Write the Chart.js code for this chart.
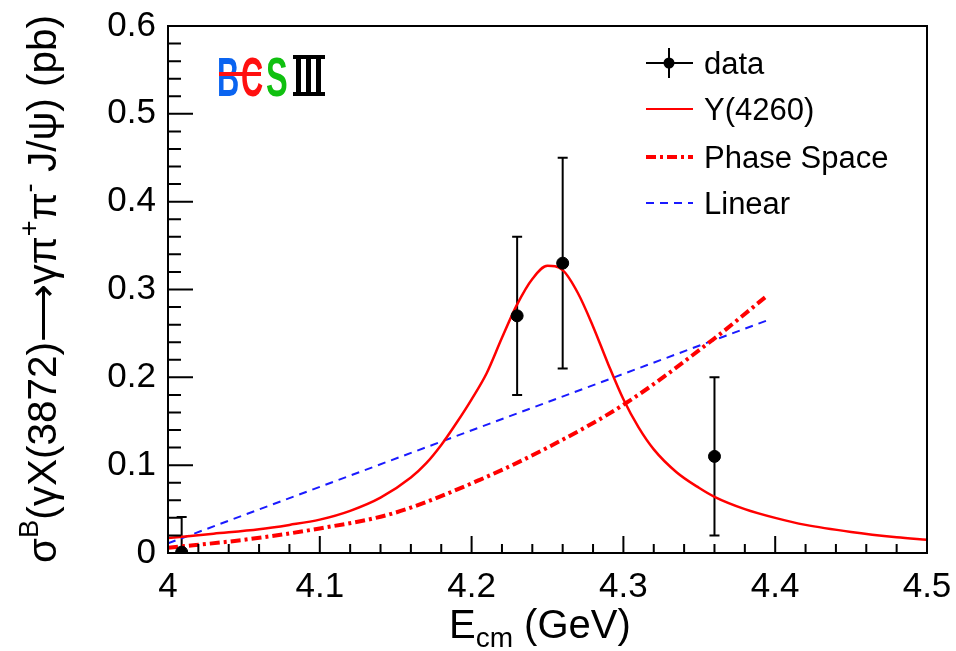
<!DOCTYPE html>
<html>
<head>
<meta charset="utf-8">
<script src="https://cdn.jsdelivr.net/npm/chart.js@4"></script>
<style>
  html, body { margin: 0; padding: 0; background: #fff; }
  #wrap { width: 956px; height: 651px; }
</style>
</head>
<body>
<div id="wrap"><canvas id="c" width="956" height="651"></canvas></div>
<script>
// measured points with symmetric errors
const dataX = [4.009, 4.230, 4.260, 4.360];
const dataY = [0.001, 0.270, 0.330, 0.110];
const dataErr = [0.040, 0.090, 0.120, 0.090];

// Y(4260) fit curve
const bwX = [4.00, 4.03, 4.06, 4.08, 4.10, 4.12, 4.14, 4.16, 4.17, 4.18, 4.19, 4.20, 4.21, 4.22, 4.23, 4.24, 4.25, 4.26, 4.27, 4.28, 4.29, 4.30, 4.31, 4.32, 4.335, 4.35, 4.36, 4.38, 4.40, 4.42, 4.45, 4.48, 4.50];
const bwY = [0.017, 0.022, 0.027, 0.032, 0.038, 0.048, 0.063, 0.086, 0.102, 0.123, 0.148, 0.175, 0.205, 0.245, 0.283, 0.312, 0.327, 0.322, 0.296, 0.258, 0.215, 0.175, 0.143, 0.118, 0.092, 0.074, 0.064, 0.050, 0.040, 0.032, 0.024, 0.018, 0.015];

// phase space curve
const psX = [4.0, 4.05, 4.1, 4.148, 4.205, 4.25, 4.302, 4.359, 4.394];
const psY = [0.006, 0.015, 0.028, 0.045, 0.083, 0.120, 0.171, 0.243, 0.292];

// linear
const linX = [4.0, 4.395];
const linY = [0.011, 0.265];

const xTickLabels = ['4', '4.1', '4.2', '4.3', '4.4', '4.5'];
const yTickLabels = ['0', '0.1', '0.2', '0.3', '0.4', '0.5', '0.6'];

const FONT = '"Liberation Sans", Arial, sans-serif';
const pts = (xs, ys) => xs.map((x, i) => ({ x: x, y: ys[i] }));

const rootPlugin = {
  id: 'rootStyle',
  beforeDatasetsDraw(chart) {
    const ctx = chart.ctx, xs = chart.scales.x, ys = chart.scales.y, a = chart.chartArea;
    ctx.save();
    ctx.strokeStyle = '#000';
    ctx.lineWidth = 2;
    dataX.forEach((x, i) => {
      const px = xs.getPixelForValue(x);
      const lo = dataY[i] - dataErr[i], hi = dataY[i] + dataErr[i];
      const pLo = Math.min(ys.getPixelForValue(lo), a.bottom);
      const pHi = ys.getPixelForValue(hi);
      ctx.beginPath();
      ctx.moveTo(px, pLo); ctx.lineTo(px, pHi);
      ctx.moveTo(px - 5, pHi); ctx.lineTo(px + 5, pHi);
      if (lo >= 0) { ctx.moveTo(px - 5, pLo); ctx.lineTo(px + 5, pLo); }
      ctx.stroke();
    });
    ctx.restore();
  },
  afterDraw(chart) {
    const ctx = chart.ctx, xs = chart.scales.x, ys = chart.scales.y, a = chart.chartArea;
    ctx.save();
    // frame
    ctx.strokeStyle = '#000';
    ctx.lineWidth = 2;
    ctx.strokeRect(a.left, a.top, a.right - a.left, a.bottom - a.top);
    // inward ticks
    ctx.beginPath();
    for (let i = 0; i <= 25; i++) {
      const px = xs.getPixelForValue(4 + i * 0.02);
      const len = i % 5 === 0 ? 17 : 9;
      ctx.moveTo(px, a.bottom); ctx.lineTo(px, a.bottom - len);
    }
    for (let i = 0; i <= 30; i++) {
      const py = ys.getPixelForValue(i * 0.02);
      const len = i % 5 === 0 ? 25 : 13;
      ctx.moveTo(a.left, py); ctx.lineTo(a.left + len, py);
    }
    ctx.stroke();

    // x title
    ctx.fillStyle = '#000';
    ctx.textBaseline = 'alphabetic';
    ctx.textAlign = 'left';
    let x = 449, base = 638;
    ctx.font = '40px ' + FONT;
    ctx.fillText('E', x, base); x += ctx.measureText('E').width;
    ctx.font = '28px ' + FONT;
    ctx.fillText('cm', x, base + 9); x += ctx.measureText('cm').width;
    ctx.font = '40px ' + FONT;
    ctx.fillText(' (GeV)', x, base);

    // y title with super scripts
    const segs = [
      ['σ', 0], ['B', 1], ['(γX(3872)', 0], ['⟶', 0], ['γπ', 0], ['+', 1], ['π', 0], ['-', 1], [' J/ψ) (pb)', 0]
    ];
    const big = '40px ' + FONT, small = '27px ' + FONT;
    let w = 0;
    segs.forEach(s => { ctx.font = s[1] ? small : big; w += ctx.measureText(s[0]).width; });
    const target = 548;
    ctx.translate(56, 289);
    ctx.rotate(-Math.PI / 2);
    ctx.scale(target / w, 1);
    let t = -w / 2;
    segs.forEach(s => {
      ctx.font = s[1] ? small : big;
      ctx.fillText(s[0], t, s[1] ? -18 : 0);
      t += ctx.measureText(s[0]).width;
    });
    ctx.setTransform(1, 0, 0, 1, 0, 0);

    // legend
    const ly = [63, 109, 157, 203];
    ctx.font = '31px ' + FONT;
    ctx.textBaseline = 'middle';
    ctx.fillStyle = '#000';
    ['data', 'Y(4260)', 'Phase Space', 'Linear'].forEach((s, i) => ctx.fillText(s, 704, ly[i] + 2));
    ctx.lineWidth = 2; ctx.strokeStyle = '#000';
    ctx.beginPath();
    ctx.moveTo(646, ly[0]); ctx.lineTo(693, ly[0]);
    ctx.moveTo(669, ly[0] - 15); ctx.lineTo(669, ly[0] + 15);
    ctx.stroke();
    ctx.beginPath(); ctx.arc(669, ly[0], 5.5, 0, Math.PI * 2); ctx.fillStyle = '#000'; ctx.fill();
    ctx.strokeStyle = '#ff0000'; ctx.lineWidth = 2;
    ctx.beginPath(); ctx.moveTo(646, ly[1]); ctx.lineTo(693, ly[1]); ctx.stroke();
    ctx.lineWidth = 4; ctx.setLineDash([10, 4, 3, 4]);
    ctx.beginPath(); ctx.moveTo(646, ly[2]); ctx.lineTo(693, ly[2]); ctx.stroke();
    ctx.strokeStyle = '#1a1aff'; ctx.lineWidth = 2; ctx.setLineDash([8, 6]);
    ctx.beginPath(); ctx.moveTo(646, ly[3]); ctx.lineTo(693, ly[3]); ctx.stroke();
    ctx.setLineDash([]);

    // BESIII logo
    ctx.textBaseline = 'alphabetic';
    ctx.font = 'bold 56px ' + FONT;
    const letter = (ch, col, px, sx) => {
      ctx.save(); ctx.translate(px, 96); ctx.scale(sx, 1);
      ctx.fillStyle = col; ctx.fillText(ch, 0, 0); ctx.restore();
    };
    letter('B', '#0a64f0', 217, 0.55);
    letter('C', '#ff1010', 241, 0.55);
    letter('S', '#10c010', 266, 0.58);
    ctx.fillStyle = '#000';
    ctx.fillRect(293, 55, 32, 4);
    ctx.fillRect(293, 92, 32, 4);
    ctx.fillRect(296, 55, 5, 41);
    ctx.fillRect(306, 55, 5, 41);
    ctx.fillRect(316, 55, 5, 41);
    ctx.fillStyle = '#ff1010';
    ctx.fillRect(219, 72, 42, 4);
    ctx.restore();
  }
};

const noOverhang = s => { s.paddingTop = 0; s.paddingBottom = 0; s.paddingLeft = 0; s.paddingRight = 0; };

new Chart(document.getElementById('c'), {
  type: 'scatter',
  data: {
    datasets: [
      {
        label: 'data', data: pts(dataX, dataY), order: 0,
        backgroundColor: '#000', borderColor: '#000', pointRadius: 6, showLine: false
      },
      {
        label: 'Y(4260)', data: pts(bwX, bwY), order: 1, showLine: true,
        borderColor: '#ff0000', borderWidth: 2.5, pointRadius: 0, cubicInterpolationMode: 'monotone'
      },
      {
        label: 'Phase Space', data: pts(psX, psY), order: 2, showLine: true,
        borderColor: '#ff0000', borderWidth: 4, borderDash: [10, 4, 3, 4], pointRadius: 0, cubicInterpolationMode: 'monotone'
      },
      {
        label: 'Linear', data: pts(linX, linY), order: 3, showLine: true,
        borderColor: '#1a1aff', borderWidth: 2, borderDash: [8, 6], pointRadius: 0
      }
    ]
  },
  options: {
    responsive: false,
    animation: false,
    layout: { padding: { left: 0, right: 29, top: 26, bottom: 0 } },
    plugins: { legend: { display: false }, tooltip: { enabled: false } },
    scales: {
      x: {
        type: 'linear', min: 4, max: 4.5,
        grid: { display: false, drawTicks: false },
        border: { display: false },
        afterBuildTicks: s => { s.ticks = xTickLabels.map((l, i) => ({ value: 4 + i * 0.1 })); },
        ticks: {
          autoSkip: false, maxRotation: 0, padding: 13, color: '#000',
          font: { family: FONT, size: 35 },
          callback: (v, i) => xTickLabels[i]
        },
        afterFit: s => { s.height = 98; noOverhang(s); }
      },
      y: {
        type: 'linear', min: 0, max: 0.6,
        grid: { display: false, drawTicks: false },
        border: { display: false },
        afterBuildTicks: s => { s.ticks = yTickLabels.map((l, i) => ({ value: i * 0.1 })); },
        ticks: {
          autoSkip: false, padding: 12, color: '#000',
          font: { family: FONT, size: 35 },
          callback: (v, i) => yTickLabels[i]
        },
        afterFit: s => { s.width = 168; noOverhang(s); }
      }
    }
  },
  plugins: [rootPlugin]
});
</script>
</body>
</html>
